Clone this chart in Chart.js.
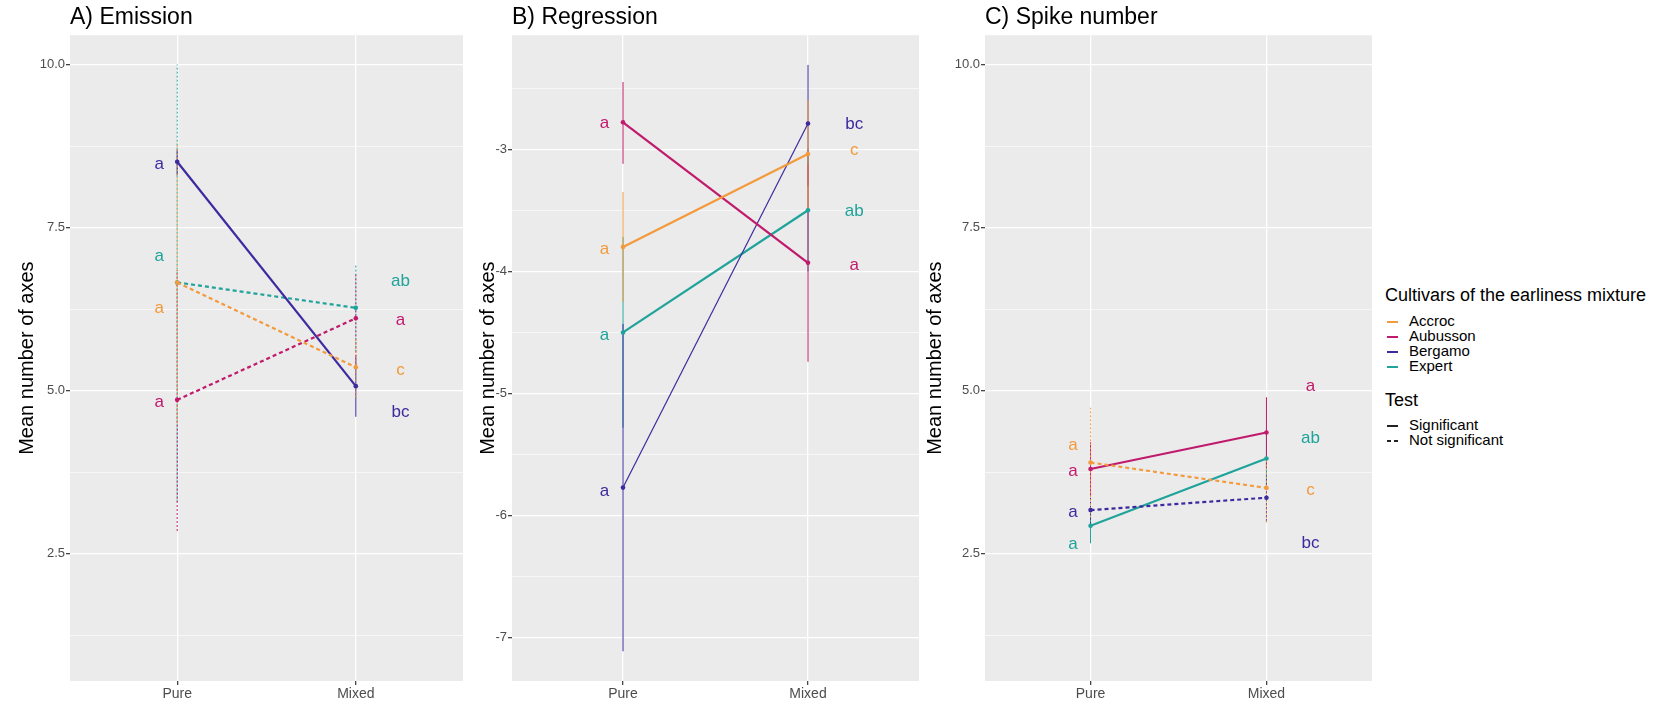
<!DOCTYPE html>
<html>
<head>
  <title>Cultivars of the earliness mixture - mean number of axes</title>
  <script src="https://cdn.jsdelivr.net/npm/chart.js"></script>
  <style>
    body {
      margin: 0;
      background-color: #ffffff;
      font-family: "Liberation Sans", Arial, sans-serif;
    }
    #wrap {
      position: relative;
      width: 1675px;
      height: 702px;
    }
    canvas {
      position: absolute;
      top: 0;
    }
    .legend {
      position: absolute;
      left: 1385px;
      color: #000;
    }
    .legend .head {
      font-size: 18px;
      line-height: 20px;
    }
    .legend .item {
      font-size: 15px;
      line-height: 15px;
      white-space: nowrap;
    }
    .legend .key {
      display: inline-block;
      width: 11px;
      height: 2px;
      margin: 0 11px 0 2px;
      vertical-align: middle;
    }
  </style>
</head>
<body>
  <div id="wrap">
    <canvas id="chartA" width="470" height="702" style="left:0px"></canvas>
    <canvas id="chartB" width="455" height="702" style="left:470px"></canvas>
    <canvas id="chartC" width="457" height="702" style="left:923px"></canvas>

    <div class="legend" style="top:285px">
      <div class="head">Cultivars of the earliness mixture</div>
    </div>
    <div class="legend" id="cultivarKeys" style="top:313px"></div>
    <div class="legend" style="top:390px">
      <div class="head">Test</div>
    </div>
    <div class="legend" style="top:417px">
      <div class="item"><span class="key" style="background:#222"></span>Significant</div>
      <div class="item"><span class="key" style="background:linear-gradient(90deg,#222 0 4px,transparent 4px 7px,#222 7px 11px)"></span>Not significant</div>
    </div>
  </div>

  <script>
    const cultivars = ['Accroc', 'Aubusson', 'Bergamo', 'Expert'];
    const conditions = ['Pure', 'Mixed'];

    // A) Emission
    const emissionPure = [6.66, 4.86, 8.51, 6.66];
    const emissionMixed = [5.36, 6.11, 5.07, 6.27];
    const emissionPureLow = [4.5, 2.85, 8.3, 3.3];
    const emissionPureHigh = [8.8, 6.85, 8.7, 10.0];
    const emissionMixedLow = [4.9, 5.4, 4.6, 5.6];
    const emissionMixedHigh = [5.8, 6.8, 5.55, 6.95];
    const emissionSignificant = [false, false, true, false];
    const emissionLettersPure = ['a', 'a', 'a', 'a'];
    const emissionLettersMixed = ['c', 'a', 'bc', 'ab'];
    const emissionLetterYPure = [6.27, 4.82, 8.47, 7.06];
    const emissionLetterYMixed = [5.32, 6.08, 4.67, 6.68];

    // B) Regression
    const regressionPure = [-3.80, -2.78, -5.77, -4.50];
    const regressionMixed = [-3.04, -3.93, -2.79, -3.50];
    const regressionPureLow = [-4.25, -3.12, -7.11, -5.28];
    const regressionPureHigh = [-3.35, -2.45, -4.43, -3.72];
    const regressionMixedLow = [-3.5, -4.74, -3.3, -4.0];
    const regressionMixedHigh = [-2.6, -3.12, -2.31, -3.0];
    const regressionSignificant = [true, true, true, true];
    const regressionLettersPure = ['a', 'a', 'a', 'a'];
    const regressionLettersMixed = ['c', 'a', 'bc', 'ab'];
    const regressionLetterYPure = [-3.82, -2.79, -5.80, -4.52];
    const regressionLetterYMixed = [-3.01, -3.95, -2.80, -3.51];

    // C) Spike number
    const spikePure = [3.90, 3.80, 3.17, 2.93];
    const spikeMixed = [3.51, 4.36, 3.36, 3.96];
    const spikePureLow = [3.06, 3.39, 2.9, 2.66];
    const spikePureHigh = [4.74, 4.21, 3.45, 3.2];
    const spikeMixedLow = [2.98, 3.82, 3.0, 3.5];
    const spikeMixedHigh = [4.0, 4.90, 3.7, 4.4];
    const spikeSignificant = [false, true, false, true];
    const spikeLettersPure = ['a', 'a', 'a', 'a'];
    const spikeLettersMixed = ['c', 'a', 'bc', 'ab'];
    const spikeLetterYPure = [4.16, 3.77, 3.13, 2.65];
    const spikeLetterYMixed = [3.47, 5.06, 2.66, 4.27];

    // y tick labels
    const ticksMeanAxes = [2.5, 5.0, 7.5, 10.0];
    const minorMeanAxes = [1.25, 3.75, 6.25, 8.75];
    const ticksRegression = [-7, -6, -5, -4, -3];
    const minorRegression = [-6.5, -5.5, -4.5, -3.5, -2.5];

    const colors = ['#F39A3C', '#C01A6C', '#3D2A9E', '#1FA39A'];
    const fontFamily = '"Liberation Sans", Arial, sans-serif';

    // legend keys
    document.getElementById('cultivarKeys').innerHTML = cultivars.map((c, i) =>
      '<div class="item"><span class="key" style="background:' + colors[i] + '"></span>' + c + '</div>'
    ).join('');

    const panelBg = {
      id: 'panelBg',
      beforeDraw(chart) {
        const a = chart.chartArea;
        const ctx = chart.ctx;
        ctx.save();
        ctx.fillStyle = '#EBEBEB';
        ctx.fillRect(a.left, a.top, a.right - a.left, a.bottom - a.top);
        ctx.restore();
      }
    };

    // significance letters next to each mean
    const letters = {
      id: 'letters',
      afterDatasetsDraw(chart, args, opts) {
        const ctx = chart.ctx;
        const xs = chart.scales.x, ys = chart.scales.y;
        ctx.save();
        ctx.font = '17px ' + fontFamily;
        ctx.textAlign = 'center';
        ctx.textBaseline = 'middle';
        for (let i = 0; i < cultivars.length; i++) {
          ctx.fillStyle = colors[i];
          ctx.fillText(opts.pure[i], xs.getPixelForValue(0.9), ys.getPixelForValue(opts.pureY[i]));
          ctx.fillText(opts.mixed[i], xs.getPixelForValue(2.25), ys.getPixelForValue(opts.mixedY[i]));
        }
        ctx.restore();
      }
    };

    function makePanel(id, p) {
      const datasets = [];
      for (let i = 0; i < cultivars.length; i++) {
        const dash = p.sig[i] ? [] : [4, 3];
        datasets.push({
          label: cultivars[i],
          data: [{x: 1, y: p.pure[i]}, {x: 2, y: p.mixed[i]}],
          showLine: true,
          borderColor: colors[i],
          backgroundColor: colors[i],
          borderWidth: p.thin && p.thin[i] ? 1.2 : 2.2,
          borderDash: dash,
          pointRadius: 2.3,
          pointBorderWidth: 0,
          order: 0
        });
        datasets.push({
          label: cultivars[i] + ' pure error',
          data: [{x: 1, y: p.pureLow[i]}, {x: 1, y: p.pureHigh[i]}],
          showLine: true,
          borderColor: colors[i],
          borderWidth: 1,
          borderDash: p.sig[i] ? [] : [2, 2],
          pointRadius: 0,
          order: 1
        });
        datasets.push({
          label: cultivars[i] + ' mixed error',
          data: [{x: 2, y: p.mixedLow[i]}, {x: 2, y: p.mixedHigh[i]}],
          showLine: true,
          borderColor: colors[i],
          borderWidth: 1,
          borderDash: p.sig[i] ? [] : [2, 2],
          pointRadius: 0,
          order: 1
        });
      }

      const allTicks = p.major.concat(p.minor);

      return new Chart(document.getElementById(id), {
        type: 'scatter',
        data: { datasets: datasets },
        options: {
          responsive: false,
          animation: false,
          devicePixelRatio: 1,
          layout: { padding: { left: 0, right: p.padRight, top: 0, bottom: 0 } },
          plugins: {
            legend: { display: false },
            tooltip: { enabled: false },
            title: {
              display: true,
              text: p.title,
              align: 'start',
              fullSize: false,
              color: '#000',
              font: { family: fontFamily, size: 23, weight: 'normal' },
              padding: { top: 4, bottom: 3.6 }
            },
            letters: {
              pure: p.lettersPure, mixed: p.lettersMixed,
              pureY: p.letterYPure, mixedY: p.letterYMixed
            }
          },
          scales: {
            x: {
              type: 'linear',
              min: 0.4,
              max: 2.6,
              afterBuildTicks: s => { s.ticks = [{value: 1}, {value: 2}]; },
              afterFit: s => { s.height = 21; },
              ticks: {
                callback: v => conditions[v - 1],
                color: '#4d4d4d',
                font: { family: fontFamily, size: 14 },
                padding: 1,
                autoSkip: false,
                maxRotation: 0
              },
              grid: { color: '#ffffff', lineWidth: 1.3, tickColor: '#444', tickLength: 4 },
              border: { display: false }
            },
            y: {
              type: 'linear',
              min: p.yMin,
              max: p.yMax,
              afterBuildTicks: s => { s.ticks = allTicks.map(v => ({value: v})); },
              afterFit: s => { s.width = p.yWidth; },
              ticks: {
                callback: v => p.major.includes(v) ? v.toFixed(p.digits) : '',
                color: '#4d4d4d',
                font: { family: fontFamily, size: 13 },
                padding: 1,
                autoSkip: false
              },
              grid: {
                color: '#ffffff',
                lineWidth: c => (c.tick && p.major.includes(c.tick.value)) ? 1.3 : 0.6,
                tickColor: c => (c.tick && p.major.includes(c.tick.value)) ? '#444' : 'rgba(0,0,0,0)',
                tickLength: 4
              },
              border: { display: false },
              title: {
                display: true,
                text: 'Mean number of axes',
                color: '#000',
                font: { family: fontFamily, size: 20 },
                padding: { top: p.titlePad, bottom: 0 }
              }
            }
          }
        },
        plugins: [panelBg, letters]
      });
    }

    makePanel('chartA', {
      title: 'A) Emission',
      pure: emissionPure, mixed: emissionMixed,
      pureLow: emissionPureLow, pureHigh: emissionPureHigh,
      mixedLow: emissionMixedLow, mixedHigh: emissionMixedHigh,
      sig: emissionSignificant,
      lettersPure: emissionLettersPure, lettersMixed: emissionLettersMixed,
      letterYPure: emissionLetterYPure, letterYMixed: emissionLetterYMixed,
      major: ticksMeanAxes, minor: minorMeanAxes, digits: 1,
      yMin: 0.55, yMax: 10.45,
      yWidth: 70, titlePad: 15, padRight: 7
    });

    makePanel('chartB', {
      title: 'B) Regression',
      pure: regressionPure, mixed: regressionMixed,
      pureLow: regressionPureLow, pureHigh: regressionPureHigh,
      mixedLow: regressionMixedLow, mixedHigh: regressionMixedHigh,
      sig: regressionSignificant,
      thin: [false, false, true, false],
      lettersPure: regressionLettersPure, lettersMixed: regressionLettersMixed,
      letterYPure: regressionLetterYPure, letterYMixed: regressionLetterYMixed,
      major: ticksRegression, minor: minorRegression, digits: 0,
      yMin: -7.353, yMax: -2.067,
      yWidth: 42, titlePad: 6, padRight: 6
    });

    makePanel('chartC', {
      title: 'C) Spike number',
      pure: spikePure, mixed: spikeMixed,
      pureLow: spikePureLow, pureHigh: spikePureHigh,
      mixedLow: spikeMixedLow, mixedHigh: spikeMixedHigh,
      sig: spikeSignificant,
      lettersPure: spikeLettersPure, lettersMixed: spikeLettersMixed,
      letterYPure: spikeLetterYPure, letterYMixed: spikeLetterYMixed,
      major: ticksMeanAxes, minor: minorMeanAxes, digits: 1,
      yMin: 0.55, yMax: 10.45,
      yWidth: 62, titlePad: 0, padRight: 8
    });
  </script>
</body>
</html>
